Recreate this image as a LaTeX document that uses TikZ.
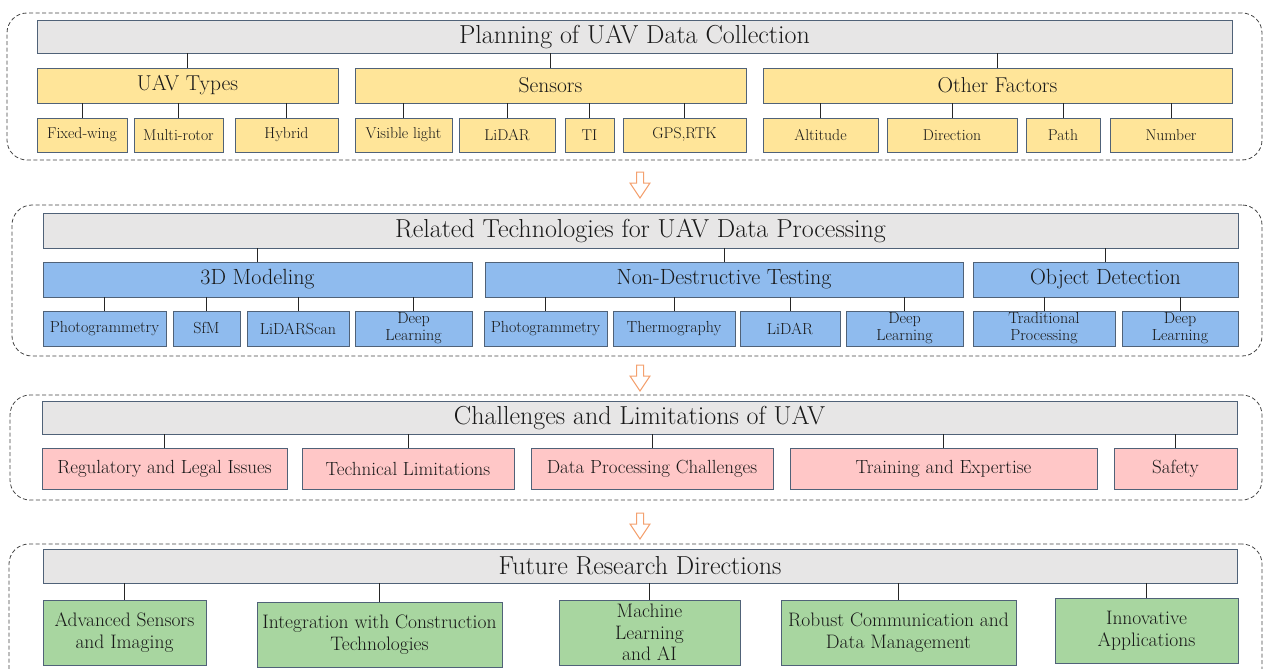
\documentclass[tikz,border=0pt]{standalone}
\definecolor{ttl}{RGB}{231,230,230}
\definecolor{yel}{RGB}{255,229,153}
\definecolor{blu}{RGB}{143,187,238}
\definecolor{pnk}{RGB}{255,199,199}
\definecolor{grn}{RGB}{168,214,160}
\definecolor{bord}{RGB}{80,98,120}
\definecolor{org}{RGB}{244,160,110}
\definecolor{dsh}{RGB}{70,70,70}
\definecolor{txt}{RGB}{25,25,25}
\tikzset{
  base/.style={draw=bord, line width=0.9pt, inner sep=0pt, align=center, text=txt},
  ttlbox/.style={base, fill=ttl, font=\fontsize{26}{28}\selectfont},
  yelA/.style={base, fill=yel, font=\fontsize{21.5}{24}\selectfont},
  yelB/.style={base, fill=yel, font=\fontsize{15.7}{17}\selectfont},
  bluA/.style={base, fill=blu, font=\fontsize{22}{24}\selectfont},
  bluB/.style={base, fill=blu, font=\fontsize{16}{17}\selectfont},
  pnkA/.style={base, fill=pnk, font=\fontsize{19}{21}\selectfont},
  grnA/.style={base, fill=grn, font=\fontsize{19.5}{21.5}\selectfont},
  secbox/.style={draw=dsh, line width=0.8pt, dash pattern=on 4pt off 2.5pt, rounded corners=20pt, inner sep=0pt},
  conn/.style={draw=black!85, line width=0.9pt},
  blk/.style={draw=org, line width=1pt, fill=white, line join=miter}
}
\newcommand{\bx}[7]{\node[#1, minimum width={(#5-#3)*1pt}, minimum height={(#6-#4)*1pt}] (#2) at ({(#3+#5)/2},{(#4+#6)/2}) {#7};}
\newcommand{\blkarr}[1]{\draw[blk] (#1) ++(-3.5,0) -- ++(7,0) -- ++(0,11) -- ++(6.5,0) -- ++(-10,15) -- ++(-10,-15) -- ++(6.5,0) -- cycle;}
\begin{document}
\begin{tikzpicture}[x=1pt,y=-1pt]
\clip (0,0) rectangle (1264,669);
\fill[white] (0,0) rectangle (1264,669);
% sections
\bx{secbox}{s1}{7}{13}{1262}{160}{}
\bx{secbox}{s2}{12}{205}{1262}{356}{}
\bx{secbox}{s3}{10}{395}{1262}{500}{}
\bx{secbox}{s4}{9}{544}{1262}{700}{}
% section 1
\bx{ttlbox}{t1}{37}{20}{1232}{53}{Planning of UAV Data Collection}
\bx{yelA}{uav}{37}{68}{338}{103}{UAV Types}
\bx{yelA}{sens}{355}{68}{746}{103}{Sensors}
\bx{yelA}{oth}{763}{68}{1232}{103}{Other Factors}
\bx{yelB}{fw}{37}{118}{127}{152}{Fixed-wing}
\bx{yelB}{mr}{134}{118}{223}{152}{Multi-rotor}
\bx{yelB}{hy}{235}{118}{338}{152}{Hybrid}
\bx{yelB}{vl}{355}{118}{452}{152}{Visible light}
\bx{yelB}{ld}{459}{118}{555}{152}{LiDAR}
\bx{yelB}{ti}{565}{118}{614}{152}{TI}
\bx{yelB}{gps}{623}{118}{746}{152}{GPS,RTK}
\bx{yelB}{alt}{763}{118}{878}{152}{Altitude}
\bx{yelB}{dir}{887}{118}{1017}{152}{Direction}
\bx{yelB}{pth}{1026}{118}{1100}{152}{Path}
\bx{yelB}{num}{1110}{118}{1232}{152}{Number}
% section 2
\bx{ttlbox}{t2}{43}{213}{1238}{248}{Related Technologies for UAV Data Processing}
\bx{bluA}{m3d}{43}{262}{472}{297}{3D Modeling}
\bx{bluA}{ndt}{485}{262}{963}{297}{Non-Destructive Testing}
\bx{bluA}{od}{973}{262}{1238}{297}{Object Detection}
\bx{bluB}{ph1}{43}{311}{166}{346}{Photogrammetry}
\bx{bluB}{sfm}{173}{311}{240}{346}{SfM}
\bx{bluB}{lds}{247}{311}{349}{346}{LiDARScan}
\bx{bluB}{dl1}{355}{311}{472}{346}{Deep\\Learning}
\bx{bluB}{ph2}{484}{311}{607}{346}{Photogrammetry}
\bx{bluB}{thm}{613}{311}{735}{346}{Thermography}
\bx{bluB}{ld2}{740}{311}{840}{346}{LiDAR}
\bx{bluB}{dl2}{846}{311}{963}{346}{Deep\\Learning}
\bx{bluB}{trp}{973}{311}{1115}{346}{Traditional\\Processing}
\bx{bluB}{dl3}{1122}{311}{1238}{346}{Deep\\Learning}
% section 3
\bx{ttlbox}{t3}{42}{401}{1237}{434}{Challenges and Limitations of UAV}
\bx{pnkA}{reg}{42}{448}{287}{489}{Regulatory and Legal Issues}
\bx{pnkA}{tec}{302}{448}{514}{489}{Technical Limitations}
\bx{pnkA}{dpc}{531}{448}{773}{489}{Data Processing Challenges}
\bx{pnkA}{trn}{790}{448}{1097}{489}{Training and Expertise}
\bx{pnkA}{saf}{1114}{448}{1237}{489}{Safety}
% section 4
\bx{ttlbox}{t4}{43}{549}{1237}{583}{Future Research Directions}
\bx{grnA}{adv}{43}{600}{206}{665}{Advanced Sensors\\and Imaging}
\bx{grnA}{int}{257}{602}{502}{667}{Integration with Construction\\Technologies}
\bx{grnA}{ml}{559}{600}{740}{665}{Machine\\Learning\\and AI}
\bx{grnA}{rob}{781}{600}{1016}{665}{Robust Communication and\\Data Management}
\bx{grnA}{inn}{1055}{598}{1238}{663}{Innovative\\Applications}
% connectors
\foreach \p/\c in {t1/uav,t1/sens,t1/oth,uav/fw,uav/mr,uav/hy,sens/vl,sens/ld,sens/ti,sens/gps,oth/alt,oth/dir,oth/pth,oth/num,
  t2/m3d,t2/ndt,t2/od,m3d/ph1,m3d/sfm,m3d/lds,m3d/dl1,ndt/ph2,ndt/thm,ndt/ld2,ndt/dl2,od/trp,od/dl3,
  t3/reg,t3/tec,t3/dpc,t3/trn,t3/saf,t4/adv,t4/int,t4/ml,t4/rob,t4/inn}
  \draw[conn] (\p.south -| \c.north) -- (\c.north);
% arrows
\coordinate (a1) at (640,172);
\coordinate (a2) at (640,365);
\coordinate (a3) at (640,513);
\blkarr{a1}
\blkarr{a2}
\blkarr{a3}
\end{tikzpicture}
\end{document}
